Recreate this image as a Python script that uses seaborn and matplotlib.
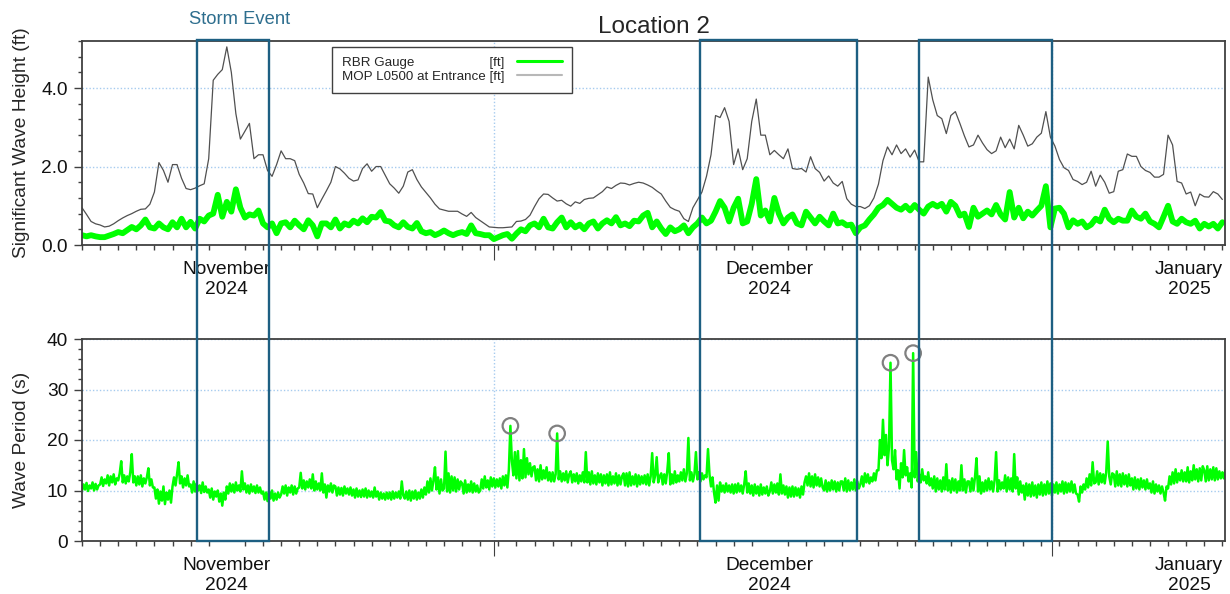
import numpy as np
import pandas as pd
import matplotlib
matplotlib.use("Agg")
import matplotlib.pyplot as plt
import matplotlib.dates as mdates
import seaborn as sns
from matplotlib.transforms import blended_transform_factory
from matplotlib.patches import Rectangle
from matplotlib.lines import Line2D
from matplotlib.ticker import MultipleLocator, FixedLocator, FixedFormatter, FormatStrFormatter
from matplotlib.font_manager import FontProperties

# ---------------- data ----------------
start = "2024-10-24 00:00"
end = "2024-12-26 03:30"

# MOP L0500 significant wave height [ft], 6-hourly
mop_hs = [
    0.95, 0.78, 0.60, 0.54, 0.51, 0.46, 0.48, 0.54, 0.62, 0.69,
    0.75, 0.80, 0.86, 0.91, 0.92, 1.04, 1.35, 2.10, 1.90, 1.60,
    2.05, 2.05, 1.70, 1.44, 1.41, 1.45, 1.51, 1.56, 2.20, 4.20,
    4.35, 4.47, 5.05, 4.40, 3.35, 2.70, 2.90, 3.10, 2.20, 2.30,
    2.30, 1.90, 1.75, 2.05, 2.40, 2.20, 2.20, 2.15, 1.80, 1.58,
    1.31, 1.30, 0.95, 1.17, 1.38, 1.60, 2.00, 1.94, 1.83, 1.70,
    1.63, 1.66, 1.95, 2.07, 1.88, 2.00, 2.00, 1.78, 1.56, 1.45,
    1.32, 1.50, 1.86, 1.92, 1.67, 1.48, 1.34, 1.20, 1.04, 0.92,
    0.89, 0.86, 0.86, 0.86, 0.79, 0.73, 0.83, 0.70, 0.62, 0.54,
    0.46, 0.45, 0.44, 0.44, 0.45, 0.46, 0.60, 0.61, 0.65, 0.76,
    0.98, 1.18, 1.30, 1.29, 1.20, 1.12, 1.14, 1.05, 0.99, 1.10,
    1.06, 1.16, 1.19, 1.20, 1.28, 1.36, 1.48, 1.44, 1.52, 1.58,
    1.57, 1.53, 1.57, 1.60, 1.58, 1.53, 1.47, 1.38,
    1.30, 1.12, 0.96, 0.90, 0.86, 0.67, 0.60, 0.95, 1.15, 1.35,
    1.75, 2.30, 3.30, 3.25, 3.50, 3.15, 2.05, 2.45, 1.92, 2.20,
    3.15, 3.72, 2.80, 2.80, 2.30, 2.41, 2.30, 2.20, 2.45, 1.95,
    1.93, 1.95, 1.86, 2.25, 1.95, 1.85, 1.63, 1.76, 1.58, 1.50,
    1.62, 1.18, 1.04, 0.98, 0.98, 0.93, 1.00, 1.20, 1.55, 2.15,
    2.50, 2.30, 2.55, 2.33, 2.45, 2.24, 2.42, 2.12, 2.12, 4.28,
    3.70, 3.30, 3.22, 2.84, 3.30, 3.40, 3.10, 2.78, 2.50, 2.55,
    2.80, 2.60, 2.43, 2.33, 2.40, 2.75, 2.48, 2.70, 2.45, 3.05,
    2.80, 2.52, 2.58, 2.75, 2.85, 3.40, 2.75, 2.52, 2.18, 1.97,
    1.90, 1.67, 1.62, 1.54, 1.60, 1.88, 1.50, 1.78, 1.60, 1.32,
    1.36, 1.88, 1.92, 2.32, 2.26, 2.26, 2.00, 1.90, 1.85, 1.73,
    1.73, 1.80, 2.80, 2.55, 1.62, 1.58, 1.30, 1.35, 1.00, 1.30,
    1.23, 1.22, 1.36, 1.30, 1.16,
]

# RBR gauge significant wave height [ft], 6-hourly
rbr_hs = [
    0.25, 0.22, 0.25, 0.22, 0.20, 0.20, 0.24, 0.28, 0.33, 0.30,
    0.38, 0.46, 0.40, 0.50, 0.65, 0.45, 0.42, 0.55, 0.45, 0.40,
    0.58, 0.45, 0.67, 0.45, 0.59, 0.42, 0.67, 0.60, 0.75, 0.80,
    1.28, 0.72, 1.10, 0.85, 1.42, 0.95, 0.70, 0.78, 0.75, 0.88,
    0.55, 0.45, 0.55, 0.30, 0.55, 0.58, 0.45, 0.62, 0.50, 0.40,
    0.63, 0.50, 0.22, 0.55, 0.55, 0.45, 0.65, 0.42, 0.55, 0.50,
    0.62, 0.55, 0.68, 0.58, 0.72, 0.70, 0.84, 0.62, 0.60, 0.50,
    0.45, 0.58, 0.46, 0.42, 0.56, 0.35, 0.30, 0.33, 0.25, 0.30,
    0.37, 0.30, 0.25, 0.30, 0.33, 0.28, 0.50, 0.30, 0.28, 0.25,
    0.25, 0.15, 0.20, 0.25, 0.28, 0.16, 0.29, 0.40, 0.35, 0.50,
    0.55, 0.45, 0.67, 0.45, 0.42, 0.58, 0.70, 0.45, 0.58, 0.45,
    0.52, 0.40, 0.55, 0.60, 0.42, 0.55, 0.63, 0.55, 0.71, 0.50,
    0.55, 0.48, 0.62, 0.60, 0.75, 0.82, 0.45, 0.60,
    0.42, 0.28, 0.45, 0.35, 0.40, 0.50, 0.30, 0.45, 0.55, 0.70,
    0.55, 0.62, 0.85, 1.12, 0.95, 0.60, 0.95, 1.18, 0.55, 0.60,
    1.05, 1.68, 0.75, 0.88, 0.60, 1.20, 0.80, 0.55, 0.70, 0.78,
    0.55, 0.50, 0.85, 0.70, 0.55, 0.72, 0.60, 0.50, 0.80, 0.55,
    0.58, 0.50, 0.52, 0.30, 0.45, 0.50, 0.65, 0.78, 0.95, 1.02,
    1.15, 1.05, 0.95, 0.90, 1.00, 0.88, 1.02, 0.90, 0.80, 0.98,
    1.05, 0.98, 1.05, 0.85, 1.10, 1.00, 0.75, 0.80, 0.46, 0.95,
    0.72, 0.80, 0.88, 0.78, 1.02, 0.78, 0.65, 1.35, 0.70, 0.95,
    0.68, 0.85, 0.75, 0.88, 1.00, 1.50, 0.45, 0.93, 0.95, 0.80,
    0.45, 0.63, 0.54, 0.60, 0.45, 0.52, 0.67, 0.60, 0.90, 0.67,
    0.58, 0.67, 0.62, 0.62, 0.88, 0.72, 0.67, 0.80, 0.60, 0.54,
    0.45, 0.72, 1.00, 0.60, 0.54, 0.67, 0.58, 0.54, 0.62, 0.42,
    0.54, 0.47, 0.54, 0.42, 0.58,
]

# RBR gauge wave period [s], 2-hourly (one row per day)
rbr_tp = [
    10.0, 11.2, 10.2, 11.5, 9.9, 11.0, 10.4, 11.6, 10.0, 11.3, 10.2, 11.0,
    11.2, 12.6, 10.9, 12.2, 11.4, 13.0, 11.0, 12.8, 11.6, 13.2, 11.2, 12.4,
    12.0, 13.4, 15.8, 11.6, 13.0, 11.4, 12.8, 11.8, 13.6, 17.2, 11.6, 12.8,
    11.0, 12.8, 11.2, 13.0, 10.8, 12.4, 11.4, 12.6, 14.4, 11.0, 12.2, 10.6,
    10.6, 8.4, 10.2, 7.4, 9.8, 8.0, 10.8, 7.3, 9.6, 8.2, 10.0, 7.6,
    10.8, 12.6, 11.0, 13.2, 15.6, 11.4, 12.8, 10.6, 12.4, 11.0, 13.0, 10.8,
    11.2, 9.6, 11.8, 9.8, 11.4, 10.0, 11.0, 9.5, 11.6, 9.7, 10.8, 9.6,
    10.2, 8.6, 10.4, 8.2, 9.8, 8.8, 10.0, 7.8, 9.4, 7.0, 9.6, 8.2,
    10.8, 9.4, 11.4, 9.8, 11.2, 9.6, 11.6, 10.0, 11.0, 9.8, 13.8, 10.2,
    11.4, 9.6, 11.0, 9.4, 11.2, 9.8, 10.8, 9.5, 11.0, 9.6, 10.6, 9.4,
    9.8, 8.2, 9.6, 7.9, 9.8, 8.4, 10.0, 8.0, 9.4, 8.2, 9.6, 8.6,
    9.2, 10.8, 9.4, 11.0, 9.0, 10.6, 9.6, 11.0, 9.2, 10.8, 9.4, 10.4,
    10.6, 13.5, 10.4, 12.0, 10.2, 11.8, 10.6, 12.2, 10.4, 13.2, 10.0, 11.8,
    10.2, 11.4, 10.0, 13.4, 9.6, 11.2, 8.6, 11.0, 9.8, 11.4, 9.6, 11.0,
    10.8, 9.0, 10.6, 9.2, 10.5, 9.0, 10.8, 9.4, 10.4, 9.2, 10.6, 9.0,
    10.2, 8.6, 10.4, 8.8, 10.0, 8.7, 10.2, 8.8, 10.4, 8.6, 10.0, 8.8,
    9.8, 8.6, 10.6, 8.8, 9.8, 8.2, 9.6, 8.4, 9.4, 8.2, 9.6, 8.4,
    9.6, 8.2, 9.8, 8.4, 9.6, 8.6, 9.8, 8.4, 11.8, 9.0, 8.4, 9.8,
    8.2, 10.0, 8.0, 9.8, 8.4, 10.0, 8.2, 9.6, 8.4, 10.2, 8.6, 10.6,
    9.2, 11.8, 9.6, 12.4, 10.0, 12.0, 14.6, 10.2, 12.6, 9.4, 12.2, 10.0,
    10.4, 17.7, 9.8, 13.4, 9.6, 12.8, 10.0, 12.6, 9.8, 12.2, 10.2, 11.8,
    11.4, 9.4, 12.0, 9.6, 11.2, 9.8, 11.8, 9.6, 11.4, 9.8, 11.0, 9.6,
    10.0, 12.2, 10.4, 12.8, 10.6, 12.0, 10.2, 12.6, 10.8, 12.4, 10.6, 12.2,
    10.8, 12.4, 10.4, 12.8, 11.0, 13.0, 10.6, 14.2, 22.8, 15.8, 13.0, 17.6,
    12.4, 17.8, 12.0, 16.0, 12.4, 18.2, 12.6, 16.4, 13.2, 15.4, 12.8, 14.6,
    14.8, 12.0, 14.2, 11.8, 15.0, 12.2, 14.0, 12.4, 14.6, 12.0, 13.6, 11.8,
    13.6, 11.8, 13.2, 21.3, 12.2, 13.8, 11.8, 13.4, 12.0, 13.8, 11.6, 13.2,
    13.8, 11.6, 13.2, 11.8, 13.4, 11.4, 13.0, 11.8, 13.6, 11.6, 17.6, 11.6,
    13.6, 11.2, 13.8, 11.4, 13.0, 11.2, 13.4, 11.6, 13.2, 11.0, 13.0, 11.4,
    13.2, 11.0, 13.6, 11.2, 12.8, 11.4, 13.4, 11.0, 13.0, 11.2, 12.8, 13.4,
    11.0, 13.4, 10.8, 13.6, 11.0, 12.8, 11.2, 13.2, 10.8, 13.0, 11.2, 12.8,
    11.4, 13.0, 11.2, 13.2, 11.0, 12.8, 17.4, 11.6, 13.0, 16.6, 11.6, 12.8,
    13.4, 11.2, 13.2, 11.4, 13.8, 17.4, 11.2, 13.2, 11.4, 13.8, 11.6, 13.0,
    11.8, 13.6, 12.0, 14.2, 11.8, 13.4, 20.4, 12.0, 13.6, 11.8, 13.2, 17.6,
    12.2, 13.6, 11.8, 13.4, 12.2, 13.0, 12.6, 18.2, 13.2, 10.8, 12.6, 9.6,
    7.6, 11.0, 8.0, 11.6, 9.8, 11.0, 9.6, 11.4, 9.8, 11.0, 9.6, 11.2,
    9.4, 11.2, 9.6, 11.4, 9.8, 11.0, 9.4, 11.2, 13.8, 9.6, 11.4, 9.4,
    11.0, 9.0, 11.2, 9.4, 10.8, 9.0, 11.2, 9.2, 10.6, 9.4, 10.8, 9.0,
    9.8, 11.6, 9.4, 11.2, 9.6, 11.4, 9.2, 13.2, 9.4, 11.0, 9.2, 10.8,
    8.6, 10.6, 8.8, 10.8, 8.8, 10.6, 9.0, 10.4, 8.6, 10.8, 9.2, 11.6,
    12.8, 11.0, 13.4, 10.8, 12.8, 10.6, 13.2, 11.0, 12.6, 10.8, 12.4, 10.6,
    10.0, 12.0, 9.8, 11.6, 10.0, 12.0, 10.2, 11.8, 9.8, 11.6, 10.0, 11.8,
    11.8, 10.0, 12.4, 9.8, 12.0, 10.0, 11.6, 10.2, 12.2, 10.0, 11.8, 10.4,
    11.2, 12.8, 10.8, 13.4, 11.6, 13.2, 11.4, 12.6, 11.8, 13.4, 12.0, 14.0,
    14.0, 20.0, 16.4, 24.0, 17.0, 21.0, 15.0, 18.6, 35.3, 16.0, 14.2, 18.0,
    12.2, 14.0, 10.4, 15.4, 12.6, 18.0, 13.0, 14.6, 11.8, 13.4, 10.6, 37.2,
    12.6, 17.6, 11.8, 13.2, 11.6, 14.2, 12.0, 12.8, 11.4, 13.6, 11.0, 12.4,
    10.4, 12.8, 9.8, 12.4, 10.2, 12.0, 9.8, 12.6, 10.2, 15.2, 10.0, 12.0,
    9.6, 12.4, 10.0, 12.2, 9.6, 11.8, 10.0, 15.0, 10.0, 12.2, 9.6, 11.8,
    11.8, 9.8, 12.4, 10.0, 12.6, 16.4, 9.8, 12.8, 9.4, 11.6, 9.8, 12.0,
    10.0, 12.4, 10.2, 11.8, 9.8, 12.0, 17.6, 9.8, 12.0, 10.2, 11.6, 10.4,
    13.0, 9.8, 12.6, 10.2, 12.4, 9.8, 17.2, 10.4, 12.6, 9.2, 11.8, 9.6,
    11.0, 8.2, 11.4, 9.0, 11.2, 8.8, 11.6, 9.0, 11.0, 8.6, 11.2, 9.2,
    11.6, 9.0, 11.2, 9.2, 11.8, 9.4, 11.4, 9.0, 11.2, 9.6, 11.6, 9.4,
    11.2, 9.8, 11.8, 9.4, 11.6, 9.6, 11.4, 9.8, 11.8, 9.6, 11.2, 9.4,
    9.2, 7.8, 10.8, 9.6, 11.2, 10.2, 12.4, 10.6, 13.2, 11.0, 15.6, 11.4,
    11.6, 13.8, 11.2, 13.4, 11.6, 13.2, 11.4, 13.6, 19.7, 12.8, 11.2, 13.4,
    13.2, 10.8, 13.8, 11.0, 13.2, 10.8, 13.4, 11.2, 13.0, 10.8, 13.2, 11.0,
    12.4, 10.2, 12.6, 10.4, 12.2, 10.2, 12.4, 10.6, 12.0, 10.2, 12.2, 10.4,
    11.4, 9.6, 11.8, 9.4, 11.2, 9.8, 11.0, 9.4, 10.8, 9.6, 8.0, 10.8,
    10.4, 12.8, 11.2, 13.6, 11.4, 14.2, 11.6, 13.4, 12.0, 14.0, 11.8, 13.6,
    11.8, 14.6, 11.6, 13.8, 12.0, 15.0, 12.2, 14.2, 11.8, 14.4, 12.0, 14.8,
    14.0, 11.8, 14.8, 12.0, 14.2, 12.2, 14.6, 12.0, 14.4, 12.2, 13.8, 12.4,
    13.6, 12.4, 14.0,
]

# flagged (circled) period spikes: indices into rbr_tp
flagged_idx = [284, 315, 536, 551]

# storm event windows
storm_windows = [
    ("2024-10-30 08:30", "2024-11-03 08:00"),
    ("2024-11-27 03:30", "2024-12-05 19:30"),
    ("2024-12-09 06:00", "2024-12-16 13:30"),
]

month_tick_times = ["2024-11-01 00:00", "2024-12-01 00:00", "2024-12-24 04:00"]
month_tick_labels = ["November\n2024", "December\n2024", "January\n2025"]
grid_times = ["2024-11-15 18:00", "2024-12-16 13:30"]

# ---------------- build frames ----------------
hs_time = pd.date_range(start, periods=len(rbr_hs), freq="6h")
mop_time = pd.date_range(start, periods=len(mop_hs), freq="6h")
tp_time = pd.date_range(start, periods=len(rbr_tp), freq="2h")
df_rbr = pd.DataFrame({"time": hs_time, "hs": rbr_hs})
df_mop = pd.DataFrame({"time": mop_time, "hs": mop_hs})
df_tp = pd.DataFrame({"time": tp_time, "tp": rbr_tp})
df_flag = df_tp.iloc[flagged_idx]

# ---------------- style ----------------
sns.set_style("white")
plt.rcParams["font.family"] = ["Liberation Sans", "DejaVu Sans"]
FS = 13.8
GREEN = "#00ff00"
BOX = "#1d5f82"
GRID = "#a6cbef"
SPINE = "#404040"

W, H = 1230, 594
fig = plt.figure(figsize=(W / 100, H / 100), dpi=100)
ax1 = fig.add_axes([82 / W, 1 - 245 / H, 1143 / W, 204 / H])
ax2 = fig.add_axes([82 / W, 1 - 541 / H, 1143 / W, 202 / H])

sns.lineplot(data=df_mop, x="time", y="hs", ax=ax1, color="#505050", lw=0.9)
sns.lineplot(data=df_rbr, x="time", y="hs", ax=ax1, color=GREEN, lw=4.2)
sns.lineplot(data=df_tp, x="time", y="tp", ax=ax2, color=GREEN, lw=1.8)
ax2.scatter(df_flag["time"], df_flag["tp"], s=125, facecolors="none",
            edgecolors="#808080", linewidths=1.6, zorder=5)

xmin, xmax = pd.Timestamp(start), pd.Timestamp(end)
for ax in (ax1, ax2):
    ax.set_xlim(xmin, xmax)
    ax.set_xlabel("")
    for sp in ax.spines.values():
        sp.set_color(SPINE)
        sp.set_linewidth(1.3)
        sp.set_visible(True)
    ax.yaxis.grid(True, which="major", color=GRID, ls=(0, (1, 1.5)), lw=1.0)
    ax.xaxis.grid(False)
    for g in grid_times:
        ax.axvline(pd.Timestamp(g), color=GRID, ls=(0, (1, 1.5)), lw=1.0, zorder=0.5)
    ticks = [pd.Timestamp(t) for t in month_tick_times] + [pd.Timestamp(g) for g in grid_times]
    labels = month_tick_labels + ["", ""]
    ax.xaxis.set_major_locator(FixedLocator(mdates.date2num(ticks)))
    ax.xaxis.set_major_formatter(FixedFormatter(labels))
    ax.xaxis.set_minor_locator(mdates.DayLocator())
    ax.tick_params(axis="x", which="major", labelsize=FS, pad=8, colors=SPINE,
                   labelcolor="#111111", bottom=True)
    ax.tick_params(axis="x", which="minor", length=3.5, width=1.0, color=SPINE, bottom=True)
    ax.tick_params(axis="y", which="major", length=6, width=1.0, color=SPINE,
                   labelsize=FS, pad=4, labelcolor="#111111", left=True)
    ax.tick_params(axis="y", which="minor", length=3, width=1.0, color=SPINE, left=True)
    for tk, lab in zip(ax.xaxis.get_major_ticks(), labels):
        if lab:
            tk.tick1line.set_markersize(0)
        else:
            tk.tick1line.set_markersize(11)
            tk.tick1line.set_color("#a0a0a0")
    ax.yaxis.set_label_coords(-0.0455, 0.5)

ax1.set_ylim(0, 5.2)
ax1.yaxis.set_major_locator(FixedLocator([0, 2, 4]))
ax1.yaxis.set_major_formatter(FormatStrFormatter("%.1f"))
ax1.yaxis.set_minor_locator(MultipleLocator(0.4))
ax1.set_ylabel("Significant Wave Height (ft)", fontsize=FS)

ax2.set_ylim(0, 40)
ax2.yaxis.set_major_locator(MultipleLocator(10))
ax2.yaxis.set_minor_locator(MultipleLocator(2))
ax2.yaxis.set_major_formatter(FormatStrFormatter("%d"))
ax2.set_ylabel("Wave Period (s)", fontsize=FS)

ax1.set_title("Location 2", fontsize=17.5, pad=6)

# legend with right-aligned units (pad the short label with spaces)
fp = FontProperties(family="Liberation Sans", size=9.6)
renderer = fig.canvas.get_renderer()
def tw(s):
    t = fig.text(0, 0, s, fontproperties=fp)
    w = t.get_window_extent(renderer=renderer).width
    t.remove()
    return w
long_lab = "MOP L0500 at Entrance [ft]"
target = tw(long_lab)
best = None
for n in range(1, 45):
    cand = "RBR Gauge" + " " * n + "[ft]"
    d = abs(tw(cand) - target)
    if best is None or d < best[0]:
        best = (d, cand)
short_lab = best[1]

handles = [Line2D([], [], color=GREEN, lw=2.2), Line2D([], [], color="#b8b8b8", lw=1.5)]
leg = ax1.legend(handles, [short_lab, long_lab], loc="upper left",
                 bbox_to_anchor=(250 / 1143, 0.972), borderaxespad=0, frameon=True,
                 fancybox=False, edgecolor=SPINE, prop=fp, markerfirst=False,
                 handlelength=3.4, handletextpad=0.9, labelspacing=0.1, borderpad=0.75)
leg.get_frame().set_linewidth(1.0)
leg.get_frame().set_alpha(1)

# storm event boxes spanning both panels
trans = blended_transform_factory(ax2.transData, fig.transFigure)
y_top, y_bot = 1 - 40 / H, 1 - 541 / H
for a, b in storm_windows:
    x0 = mdates.date2num(pd.Timestamp(a))
    x1 = mdates.date2num(pd.Timestamp(b))
    fig.add_artist(Rectangle((x0, y_bot), x1 - x0, y_top - y_bot, transform=trans,
                             fill=False, ec=BOX, lw=1.7, zorder=10))

fig.text(240 / W, 1 - 19 / H, "Storm Event", ha="center", va="center",
         fontsize=13.2, color="#2e6e8e")

fig.savefig("out.png", dpi=100, facecolor="white")
